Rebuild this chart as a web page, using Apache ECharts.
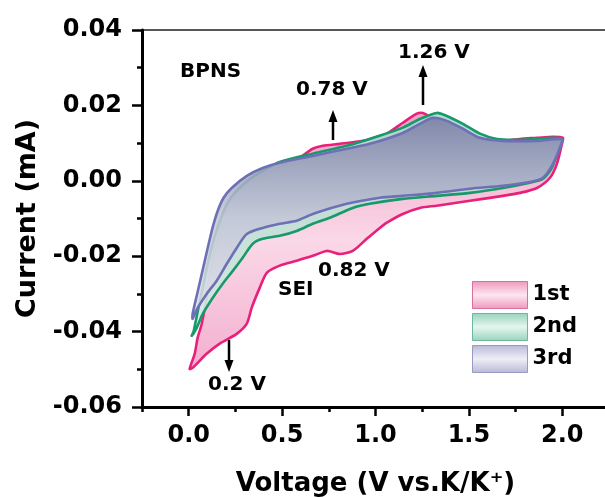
<!DOCTYPE html>
<html>
<head>
<meta charset="utf-8">
<script src="https://cdn.jsdelivr.net/npm/echarts@6/dist/echarts.min.js"></script>
<style>
html,body{margin:0;padding:0;background:#fff;}
#main{width:605px;height:497px;}
</style>
</head>
<body>
<div id="main"></div>
<script>
// CV data, each loop: cathodic branch (2.0 -> 0 V) then anodic branch back
var cycleNames = ['1st', '2nd', '3rd'];

var cycle1V = [2.003,1.998,1.971,1.934,1.864,1.773,1.682,1.505,1.328,1.237,1.146,1.061,1.023,0.953,0.878,0.809,0.739,0.664,0.578,0.487,0.418,0.380,0.337,0.311,0.257,0.166,0.096,0.021,0.005,
  0.032,0.048,0.070,0.102,0.129,0.155,0.182,0.236,0.311,0.380,0.471,0.568,0.664,0.718,0.809,0.932,1.023,1.061,1.146,1.221,1.253,1.291,1.328,1.414,1.505,1.596,1.682,1.773,1.864,1.950];
var cycle1I = [0.0114,0.0098,0.0045,0.0008,-0.0019,-0.0032,-0.0040,-0.0053,-0.0066,-0.0072,-0.0088,-0.0111,-0.0125,-0.0154,-0.0186,-0.0194,-0.0186,-0.0199,-0.0212,-0.0225,-0.0244,-0.0284,-0.0337,-0.0379,-0.0406,-0.0432,-0.0459,-0.0496,-0.0499,
  -0.0459,-0.0416,-0.0379,-0.0292,-0.0207,-0.0154,-0.0106,-0.0048,-0.0008,0.0008,0.0034,0.0053,0.0085,0.0093,0.0098,0.0106,0.0119,0.0125,0.0154,0.0178,0.0180,0.0170,0.0159,0.0133,0.0114,0.0106,0.0106,0.0111,0.0114,0.0117];

var cycle2V = [2.003,1.998,1.944,1.896,1.826,1.682,1.505,1.328,1.146,0.969,0.878,0.755,0.664,0.578,0.487,0.396,0.343,0.289,0.236,0.182,0.129,0.075,0.043,0.016,
  0.027,0.054,0.075,0.096,0.118,0.145,0.177,0.209,0.252,0.327,0.407,0.487,0.664,0.846,0.969,1.146,1.237,1.328,1.382,1.468,1.559,1.650,1.773,1.950];
var cycle2I = [0.0111,0.0106,0.0034,0.0005,-0.0005,-0.0019,-0.0032,-0.0040,-0.0048,-0.0061,-0.0072,-0.0098,-0.0114,-0.0133,-0.0146,-0.0154,-0.0167,-0.0204,-0.0239,-0.0273,-0.0310,-0.0353,-0.0390,-0.0411,
  -0.0398,-0.0332,-0.0284,-0.0233,-0.0186,-0.0138,-0.0093,-0.0058,-0.0029,0.0005,0.0029,0.0050,0.0072,0.0093,0.0111,0.0141,0.0164,0.0180,0.0172,0.0151,0.0125,0.0111,0.0109,0.0114];

var cycle3V = [1.998,1.998,1.950,1.896,1.826,1.682,1.505,1.328,1.146,1.023,0.846,0.664,0.578,0.487,0.396,0.311,0.257,0.204,0.150,0.096,0.048,0.021,
  0.021,0.043,0.064,0.086,0.107,0.129,0.155,0.187,0.230,0.311,0.396,0.487,0.664,0.846,0.969,1.146,1.237,1.307,1.382,1.468,1.559,1.682,1.864];
var cycle3I = [0.0111,0.0101,0.0045,0.0008,-0.0003,-0.0013,-0.0021,-0.0032,-0.0040,-0.0045,-0.0061,-0.0088,-0.0106,-0.0114,-0.0125,-0.0141,-0.0178,-0.0220,-0.0265,-0.0300,-0.0337,-0.0366,
  -0.0353,-0.0305,-0.0260,-0.0212,-0.0167,-0.0122,-0.0080,-0.0045,-0.0019,0.0013,0.0034,0.0048,0.0066,0.0085,0.0098,0.0127,0.0151,0.0167,0.0159,0.0138,0.0114,0.0106,0.0106];

var xMajorTicks = [0, 0.5, 1.0, 1.5, 2.0];
var xMinorTicks = [-0.25, 0.25, 0.75, 1.25, 1.75, 2.25];

var FONT = 'DejaVu Sans';

function grad(stops){
  return new echarts.graphic.LinearGradient(0, 0, 0, 1, stops.map(function(c, i){
    return {offset: i / (stops.length - 1), color: c};
  }));
}

function loop(name, V, I, stroke, fill, z){
  return {
    name: name,
    type: 'custom',
    coordinateSystem: 'cartesian2d',
    xAxisIndex: 0, yAxisIndex: 0,
    data: V.map(function(v, i){ return [v, I[i]]; }),
    encode: {x: 0, y: 1},
    z: z,
    renderItem: function(params, api){
      if (params.dataIndex !== 0) return null;
      var pts = V.map(function(v, i){ return api.coord([v, I[i]]); });
      return {
        type: 'polygon',
        shape: {points: pts, smooth: 0.25},
        style: {fill: fill, stroke: stroke, lineWidth: 2.6, lineJoin: 'round'}
      };
    }
  };
}

function arrow(x, y1, y2){
  var dir = y2 < y1 ? 1 : -1;
  return {
    type: 'group',
    children: [
      {type: 'line', shape: {x1: x, y1: y1, x2: x, y2: y2 + dir * 8}, style: {stroke: '#000', lineWidth: 2.5}},
      {type: 'polygon', shape: {points: [[x, y2], [x - 4.5, y2 + dir * 12], [x + 4.5, y2 + dir * 12]]}, style: {fill: '#000'}}
    ]
  };
}

function label(text, x, y, size){
  return {type: 'text', left: x, top: y, style: {text: text, fill: '#000', font: 'bold ' + size + 'px "' + FONT + '"'}};
}

var chart = echarts.init(document.getElementById('main'));
var option = {
  animation: false,
  grid: {left: 142, top: 30, width: 467, bottom: 90, outerBoundsMode: 'none', containLabel: false,
    show: true, borderColor: '#222', borderWidth: 1.5},
  legend: {
    orient: 'vertical', left: 467, top: 276, itemWidth: 55, itemHeight: 27, itemGap: 4,
    textStyle: {fontFamily: FONT, fontWeight: 'bold', fontSize: 21, color: '#000'},
    data: [
      {name: '1st', icon: 'rect', itemStyle: {color: grad(['#ee98bd', '#fde6f0', '#ee98bd']), borderColor: '#d9709e', borderWidth: 1}},
      {name: '2nd', icon: 'rect', itemStyle: {color: grad(['#96d3bd', '#e4f6ef', '#96d3bd']), borderColor: '#6fb79c', borderWidth: 1}},
      {name: '3rd', icon: 'rect', itemStyle: {color: grad(['#b8b8d8', '#eeeef6', '#b8b8d8']), borderColor: '#9a9ac0', borderWidth: 1}}
    ]
  },
  xAxis: [{
    type: 'value', min: -0.25, max: 2.25,
    name: 'Voltage (V vs.K/K\u207A)', nameLocation: 'middle', nameGap: 64,
    nameTextStyle: {fontFamily: FONT, fontWeight: 'bold', fontSize: 26, color: '#000'},
    axisLine: {show: true, onZero: false, lineStyle: {color: '#000', width: 3}},
    axisTick: {show: true, length: 9, lineStyle: {color: '#000', width: 2.5}, customValues: xMajorTicks},
    axisLabel: {margin: 17, fontFamily: FONT, fontWeight: 'bold', fontSize: 24, color: '#000', customValues: xMajorTicks,
      formatter: function(v){ return v.toFixed(1); }},
    splitLine: {show: false}
  }, {
    type: 'value', min: -0.25, max: 2.25, position: 'bottom',
    axisLine: {show: true, onZero: false, lineStyle: {color: 'rgba(0,0,0,0)', width: 1}},
    axisTick: {show: true, length: 5, lineStyle: {color: '#000', width: 2.5}, customValues: xMinorTicks},
    axisLabel: {show: false},
    splitLine: {show: false}
  }],
  yAxis: {
    type: 'value', min: -0.06, max: 0.04, interval: 0.02,
    name: 'Current (mA)', nameLocation: 'middle', nameGap: 100,
    nameTextStyle: {fontFamily: FONT, fontWeight: 'bold', fontSize: 27, color: '#000'},
    axisLine: {show: true, onZero: false, lineStyle: {color: '#000', width: 3}},
    axisTick: {show: true, length: 10, lineStyle: {color: '#000', width: 2.5}},
    minorTick: {show: true, splitNumber: 2, length: 5, lineStyle: {color: '#000', width: 2.5}},
    axisLabel: {margin: 20, fontFamily: FONT, fontWeight: 'bold', fontSize: 24, color: '#000',
      formatter: function(v){ return v.toFixed(2); }},
    splitLine: {show: false}
  },
  series: [
    loop(cycleNames[0], cycle1V, cycle1I, '#e8207a', grad(['rgba(238,150,190,0.9)', 'rgba(250,214,230,0.95)', 'rgba(242,170,204,0.95)']), 2),
    loop(cycleNames[1], cycle2V, cycle2I, '#17996b', grad(['rgba(170,214,200,0.9)', 'rgba(214,236,228,0.92)']), 3),
    loop(cycleNames[2], cycle3V, cycle3I, '#6e70b6', grad(['rgba(122,126,166,0.88)', 'rgba(196,198,216,0.86)', 'rgba(226,227,236,0.86)']), 4)
  ],
  graphic: [
    label('BPNS', 180, 62, 20),
    label('0.78 V', 296, 80, 20),
    label('1.26 V', 398, 43, 20),
    label('0.82 V', 318, 261, 20),
    label('SEI', 278, 280, 20),
    label('0.2 V', 208, 375, 20),
    arrow(333, 140, 110),
    arrow(423, 105, 65),
    arrow(229, 340, 372)
  ]
};
chart.setOption(option);
</script>
</body>
</html>
